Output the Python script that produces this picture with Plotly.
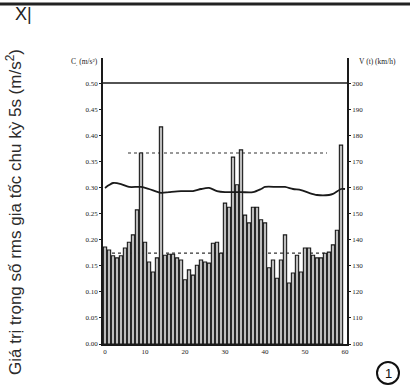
import plotly.graph_objects as go

# 5 s rms weighted acceleration per cycle (m/s^2), cycles 0..59
cycles = list(range(60))
accel_rms = [
    0.186, 0.180, 0.169, 0.165, 0.169, 0.184, 0.195, 0.209, 0.257,
    0.366,
    0.195, 0.157, 0.138, 0.165,
    0.416,
    0.170, 0.172, 0.172, 0.165, 0.161, 0.123, 0.142, 0.132, 0.151,
    0.161, 0.157, 0.155, 0.193, 0.195, 0.174, 0.270, 0.262,
    0.358, 0.305, 0.372,
    0.247, 0.232, 0.262, 0.262, 0.238, 0.232, 0.146, 0.161, 0.126,
    0.161, 0.209, 0.117, 0.136, 0.170, 0.138, 0.184, 0.184, 0.170,
    0.165, 0.165, 0.174, 0.176, 0.190, 0.218,
    0.381,
]

# train speed V(t) in km/h
speed_t = [0, 1, 2, 4, 6, 9, 11, 14, 16, 19, 22, 24, 26, 28, 30, 34, 37,
           39, 40, 43, 45, 47, 49, 51, 53, 56, 57, 59, 60]
speed_kmh = [159.8, 160.9, 161.7, 161.3, 160.2, 160.2, 159.4, 157.9, 158.2,
             158.6, 158.6, 159.4, 159.8, 158.6, 158.2, 158.2, 158.2, 159.4,
             160.2, 160.2, 160.2, 159.4, 159.0, 157.9, 157.1, 157.1, 157.5,
             159.4, 159.4]

# reference levels (m/s^2)
limit_level = 0.50
upper_ref = 0.366
lower_ref = 0.174
upper_ref_span = [5.75, 55.5]
lower_ref_span = [1.75, 57.0]

x_ticks = [0, 10, 20, 30, 40, 50, 60]
c_ticks = [0.00, 0.05, 0.10, 0.15, 0.20, 0.25, 0.30, 0.35, 0.40, 0.45, 0.50]
v_ticks = [100, 110, 120, 130, 140, 150, 160, 170, 180, 190, 200]

W, H = 410, 388
L, R, T, B = 103, 347, 58, 344


def px(x):
    return (x - L) / (R - L)


def py(y):
    return (B - y) / (B - T)


ink = "#1a1a1a"
tick_font = dict(family="Liberation Serif", size=7, color="#222")


def note(text, x, y, size, family="Liberation Serif", color="#222", angle=0):
    return dict(text=text, xref="paper", yref="paper", x=px(x), y=py(y),
                xanchor="center", yanchor="middle", textangle=angle,
                showarrow=False, font=dict(family=family, size=size, color=color))


fig = go.Figure()

fig.add_trace(go.Bar(
    x=cycles, y=accel_rms,
    marker=dict(color="#bdbdbd", line=dict(color=ink, width=1.1)),
    showlegend=False,
))

fig.add_trace(go.Scatter(
    x=speed_t, y=speed_kmh, yaxis="y2", mode="lines",
    line=dict(color=ink, width=1.8, shape="spline", smoothing=0.8),
    showlegend=False,
))

shapes = [
    # limit line
    dict(type="line", xref="paper", yref="y", x0=0, x1=1,
         y0=limit_level, y1=limit_level, line=dict(color=ink, width=1.5)),
    # reference levels behind the bars
    dict(type="line", xref="x", yref="y", layer="below",
         x0=upper_ref_span[0], x1=upper_ref_span[1], y0=upper_ref, y1=upper_ref,
         line=dict(color="#333", width=1.2, dash="dot")),
    dict(type="line", xref="x", yref="y", layer="below",
         x0=lower_ref_span[0], x1=lower_ref_span[1], y0=lower_ref, y1=lower_ref,
         line=dict(color="#333", width=1.2, dash="dot")),
    # page rule and figure number
    dict(type="line", xref="paper", yref="paper", x0=px(0), x1=px(410),
         y0=py(4), y1=py(4), line=dict(color="#222", width=3)),
    dict(type="circle", xref="paper", yref="paper",
         x0=px(377), x1=px(399), y0=py(384), y1=py(362),
         line=dict(color="#111", width=2)),
]

annotations = [
    note("Giá trị trọng số rms gia tốc chu kỳ 5s (m/s<sup>2</sup>)", 14, 212, 17,
         family="Liberation Sans", color="#2b2b2b", angle=-90),
    note("X|", 23, 14, 18, family="Liberation Sans", color="#222"),
    note("C<sub>.</sub> (m/s²)", 84, 62, 7.5),
    note("V (t) (km/h)", 377, 62, 7.5),
    note("1", 388, 373, 13, family="Liberation Sans", color="#111"),
]

fig.update_layout(
    width=W, height=H,
    margin=dict(l=L, r=W - R, t=T, b=H - B, pad=0),
    paper_bgcolor="white", plot_bgcolor="white",
    bargap=0.18,
    shapes=shapes, annotations=annotations,
    xaxis=dict(range=[-0.5, 60.5], tickvals=x_ticks,
               ticktext=[str(v) for v in x_ticks],
               showgrid=False, zeroline=False, showline=True,
               linecolor=ink, linewidth=2, ticks="", tickfont=tick_font),
    yaxis=dict(range=[0, 0.548], tickvals=c_ticks,
               ticktext=[f"{v:.2f}" for v in c_ticks],
               showgrid=False, zeroline=False, showline=True,
               linecolor=ink, linewidth=1.8, ticks="outside", ticklen=2,
               tickcolor=ink, tickfont=tick_font),
    yaxis2=dict(range=[100, 209.6], overlaying="y", side="right",
                tickvals=v_ticks, ticktext=[str(v) for v in v_ticks],
                showgrid=False, zeroline=False, showline=True,
                linecolor=ink, linewidth=1.8, ticks="outside", ticklen=2,
                tickcolor=ink, tickfont=tick_font),
)

fig.write_html("out.html")
